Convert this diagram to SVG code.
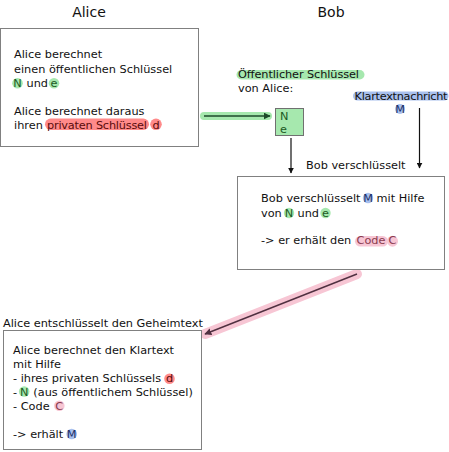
<svg xmlns="http://www.w3.org/2000/svg" width="449" height="452" viewBox="0 0 449 452">
<defs>
<style>
text{font-family:"DejaVu Sans",sans-serif;font-size:11.3px;fill:#111}
.title{font-size:14px;text-anchor:middle;fill:#111}
.c{text-anchor:middle}
.box{fill:#fff;stroke:#808080;stroke-width:1}
.g{fill:#a6e8ae}
.r{fill:#ff8a8a}
.b{fill:#a8c0ee}
.p{fill:#f7c6d4}
.gt{fill:#1d5a24}
.rt{fill:#5a0a0a}
.pt{fill:#8a3a4e}
.bt{fill:#1c2e66}
.conn{stroke:#111;stroke-width:1.2;fill:none}
</style>
<marker id="ah" viewBox="0 0 10 10" refX="9" refY="5" markerWidth="5" markerHeight="5" orient="auto">
<path d="M0,0 L10,5 L0,10 z" fill="#111"/>
</marker>
<marker id="ahg" viewBox="0 0 10 10" refX="9" refY="5" markerWidth="5" markerHeight="5" orient="auto">
<path d="M0,0 L10,5 L0,10 z" fill="#1d4a2a"/>
</marker>
<marker id="ahp" viewBox="0 0 10 10" refX="9" refY="5" markerWidth="5" markerHeight="5" orient="auto">
<path d="M0,0 L10,5 L0,10 z" fill="#503040"/>
</marker>
</defs>
<rect width="449" height="452" fill="#fff"/>

<text class="title" x="89" y="17">Alice</text>
<text class="title" x="331" y="17">Bob</text>

<g id="connectors">
<line x1="204" y1="116" x2="268" y2="116" stroke="#a6e8ae" stroke-width="8" stroke-linecap="round"/>
<line x1="204" y1="116" x2="270" y2="116" stroke="#1d4a2a" stroke-width="1.4" marker-end="url(#ahg)"/>
<line class="conn" x1="291" y1="138" x2="291" y2="173" marker-end="url(#ah)"/>
<line class="conn" x1="419.5" y1="108" x2="419.5" y2="168" marker-end="url(#ah)"/>
<line x1="357" y1="274" x2="205" y2="334" stroke="#f7c6d4" stroke-width="10" stroke-linecap="round"/>
<line x1="357" y1="274" x2="205" y2="334" stroke="#503040" stroke-width="1.4" marker-end="url(#ahp)"/>
<text x="306" y="169">Bob verschlüsselt</text>
<text x="3" y="327">Alice entschlüsselt den Geheimtext</text>
</g>

<g id="alice-box">
<rect class="box" x="0.5" y="28.5" width="198" height="118"/>
<text x="14" y="58">Alice berechnet</text>
<text x="14" y="72.5">einen öffentlichen Schlüssel</text>
<circle class="g" cx="17.5" cy="83.3" r="5.3"/>
<circle class="g" cx="54" cy="83.3" r="5.3"/>
<text class="gt c" x="17.5" y="87">N</text>
<text x="26.5" y="87">und</text>
<text class="gt c" x="54" y="87">e</text>
<text x="14" y="114.5">Alice berechnet daraus</text>
<rect class="r" x="45" y="118.5" width="104" height="11.5" rx="5.7"/>
<circle class="r" cx="156" cy="124.3" r="5.8"/>
<text x="14" y="129">ihren</text>
<text class="rt" x="47" y="129" textLength="100">privaten Schlüssel</text>
<text class="rt c" x="156" y="129">d</text>
</g>

<g id="public-key">
<rect class="g" x="236.5" y="70" width="128" height="9.5" rx="4.7"/>
<text x="238" y="78" textLength="121">Öffentlicher Schlüssel</text>
<text x="238" y="91.5">von Alice:</text>
</g>

<g id="ne-box">
<rect x="275.5" y="108.5" width="28" height="27" fill="#a6e8ae" stroke="#707070"/>
<text class="gt" x="280" y="120">N</text>
<text class="gt" x="280" y="133">e</text>
</g>

<g id="plaintext">
<rect class="b" x="353" y="91.5" width="95.5" height="9" rx="4.5"/>
<text x="354.5" y="99.5" textLength="93">Klartextnachricht</text>
<circle class="b" cx="400" cy="109" r="5"/>
<text class="bt c" x="400" y="113">M</text>
</g>

<g id="bob-box">
<rect class="box" x="237.5" y="176.5" width="207" height="93"/>
<circle class="b" cx="368" cy="198" r="5.2"/>
<text x="261" y="202">Bob verschlüsselt</text>
<text class="bt c" x="368" y="202">M</text>
<text x="376.5" y="202">mit Hilfe</text>
<circle class="g" cx="289" cy="213" r="5.2"/>
<circle class="g" cx="325.5" cy="213" r="5.2"/>
<text x="261" y="216.5">von</text>
<text class="gt c" x="289" y="216.5">N</text>
<text x="297.5" y="216.5">und</text>
<text class="gt c" x="325.5" y="216.5">e</text>
<rect class="p" x="355" y="236" width="33" height="10.5" rx="5.2"/>
<circle class="p" cx="392.5" cy="241.2" r="5.5"/>
<text x="261" y="243.5">-&gt; er erhält den</text>
<text class="pt" x="356.5" y="243.5">Code</text>
<text class="pt c" x="392.5" y="243.5">C</text>
</g>

<g id="decrypt-box">
<rect class="box" x="3.5" y="330.5" width="198" height="119"/>
<text x="13" y="353.7">Alice berechnet den Klartext</text>
<text x="13" y="367.8">mit Hilfe</text>
<circle class="r" cx="169.5" cy="378.8" r="5.3"/>
<text x="13" y="381.9">- ihres privaten Schlüssels</text>
<text class="rt c" x="169.5" y="381.9">d</text>
<circle class="g" cx="24.2" cy="391.5" r="5.3"/>
<text x="13" y="396">-</text>
<text class="gt c" x="24.2" y="396">N</text>
<text x="33.3" y="396">(aus öffentlichem Schlüssel)</text>
<circle class="p" cx="59.3" cy="405.8" r="5.3"/>
<text x="13" y="410.1">- Code</text>
<text class="pt c" x="59.3" y="410.1">C</text>
<circle class="b" cx="71.7" cy="434" r="5.3"/>
<text x="13" y="438.4">-&gt; erhält</text>
<text class="bt c" x="71.7" y="438.4">M</text>
</g>
</svg>
